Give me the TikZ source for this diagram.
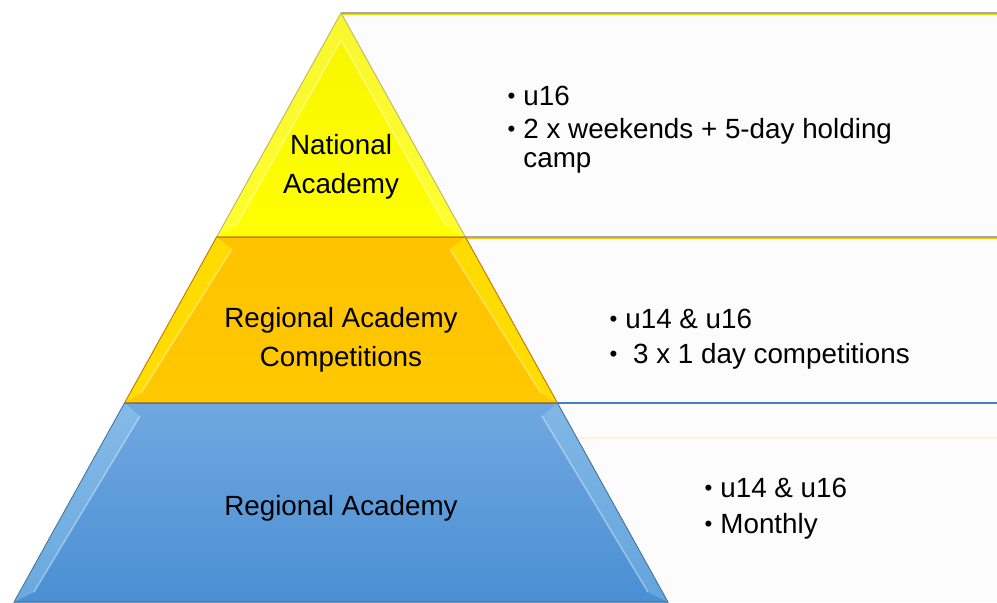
\documentclass[tikz,border=0pt]{standalone}
\usepackage{fontspec}
\setmainfont{Liberation Sans}
\usepackage{tikz}
\usetikzlibrary{positioning}

\definecolor{natyellow}{HTML}{FFFF00}
\definecolor{natyellowdark}{HTML}{F7F500}
\definecolor{compgold}{HTML}{FFC800}
\definecolor{compgolddark}{HTML}{FFC300}
\definecolor{regbluetop}{HTML}{70A8E0}
\definecolor{regbluebot}{HTML}{4A8FD3}
\definecolor{panelfill}{HTML}{FCFCFC}

\newcommand{\bul}{\makebox[8.5pt][l]{\hspace*{0.6pt}\raisebox{0.6pt}{\scalebox{0.8}{\textbullet}}}}

\begin{document}
\begin{tikzpicture}[
            x = 0.5pt,
            y = -0.5pt,
            tierlabel/.style = {anchor=base, inner sep=0pt, font=\fontsize{13.9}{16}\selectfont},
            bullettext/.style = {anchor=base west, inner sep=0pt, font=\fontsize{13.9}{16}\selectfont},
            panel/.style = {fill=panelfill},
            bevel/.style = {fill=white, fill opacity=0.18},
            bevelline/.style = {draw=white, draw opacity=0.35, line width=0.8pt}
        ]
        \useasboundingbox (0,0) rectangle (997,602);

        % panels behind the pyramid
        \fill[panel] (341,13) rectangle (997,237);
        \fill[panel] (341,237) rectangle (997,403);
        \fill[panel] (341,403) rectangle (997,602);
        \draw[gray!70, line width=1pt] (341,13) -- (997,13);
        \draw[natyellow!90!black, line width=0.6pt] (341,14.5) -- (997,14.5);
        \draw[gray!70, line width=1pt] (341,237) -- (997,237);
        \draw[compgold, line width=0.6pt] (341,238.5) -- (997,238.5);
        \draw[regbluebot!90!black, line width=1.2pt] (341,403) -- (997,403);
        \draw[orange!12, line width=1pt] (575,438) -- (997,438);

        % pyramid tiers
        \shade[top color=natyellowdark, bottom color=natyellow, draw=olive!60, line width=0.5pt]
            (341,13) -- (216.7,237) -- (465.3,237) -- cycle;
        \shade[top color=compgolddark, bottom color=compgold, draw=orange!70!black, line width=0.5pt]
            (216.7,237) -- (124.6,403) -- (557.4,403) -- (465.3,237) -- cycle;
        \shade[top color=regbluetop, bottom color=regbluebot, draw=regbluebot!70!black, line width=0.5pt]
            (124.6,403) -- (14.1,602) -- (667.9,602) -- (557.4,403) -- cycle;

        % bevel highlights
        \fill[bevel] (341,13) -- (216.7,237) -- (236,226) -- (341,40) -- cycle;
        \fill[bevel] (341,13) -- (465.3,237) -- (446,226) -- (341,40) -- cycle;
        \draw[bevelline] (341,40) -- (236,226);
        \draw[bevelline] (341,40) -- (446,226);
        \fill[natyellow, fill opacity=0.4] (216.7,237) -- (124.6,403) -- (141,393) -- (232,249) -- cycle;
        \fill[natyellow, fill opacity=0.4] (465.3,237) -- (557.4,403) -- (541,393) -- (450,249) -- cycle;
        \draw[bevelline] (232,249) -- (141,393);
        \draw[bevelline] (450,249) -- (541,393);
        \fill[cyan!30, fill opacity=0.3] (124.6,403) -- (14.1,602) -- (34,592) -- (140,416) -- cycle;
        \fill[cyan!30, fill opacity=0.25] (557.4,403) -- (667.9,602) -- (648,592) -- (542,416) -- cycle;
        \draw[bevelline] (140,416) -- (34,592);
        \draw[bevelline] (542,416) -- (648,592);

        % tier labels
        \node[tierlabel] (nat1) at (341,154) {National};
        \node[tierlabel] (nat2) at (341,193) {Academy};
        \node[tierlabel] (comp1) at (341,327) {Regional Academy};
        \node[tierlabel] (comp2) at (341,366) {Competitions};
        \node[tierlabel] (reg1) at (341,515) {Regional Academy};

        % panel texts
        \node[bullettext] (natA) at (506,105) {\bul u16};
        \node[bullettext] (natB) at (506,138) {\bul 2 x weekends + 5-day holding};
        \node[bullettext] (natC) at (506,167) {\hspace*{8.5pt}camp};
        \node[bullettext] (compA) at (608,328) {\bul u14 \& u16};
        \node[bullettext] (compB) at (608,363) {\bul{} 3 x 1 day competitions};
        \node[bullettext] (regA) at (703,497) {\bul u14 \& u16};
        \node[bullettext] (regB) at (703,533) {\bul Monthly};
    \end{tikzpicture}
\end{document}
